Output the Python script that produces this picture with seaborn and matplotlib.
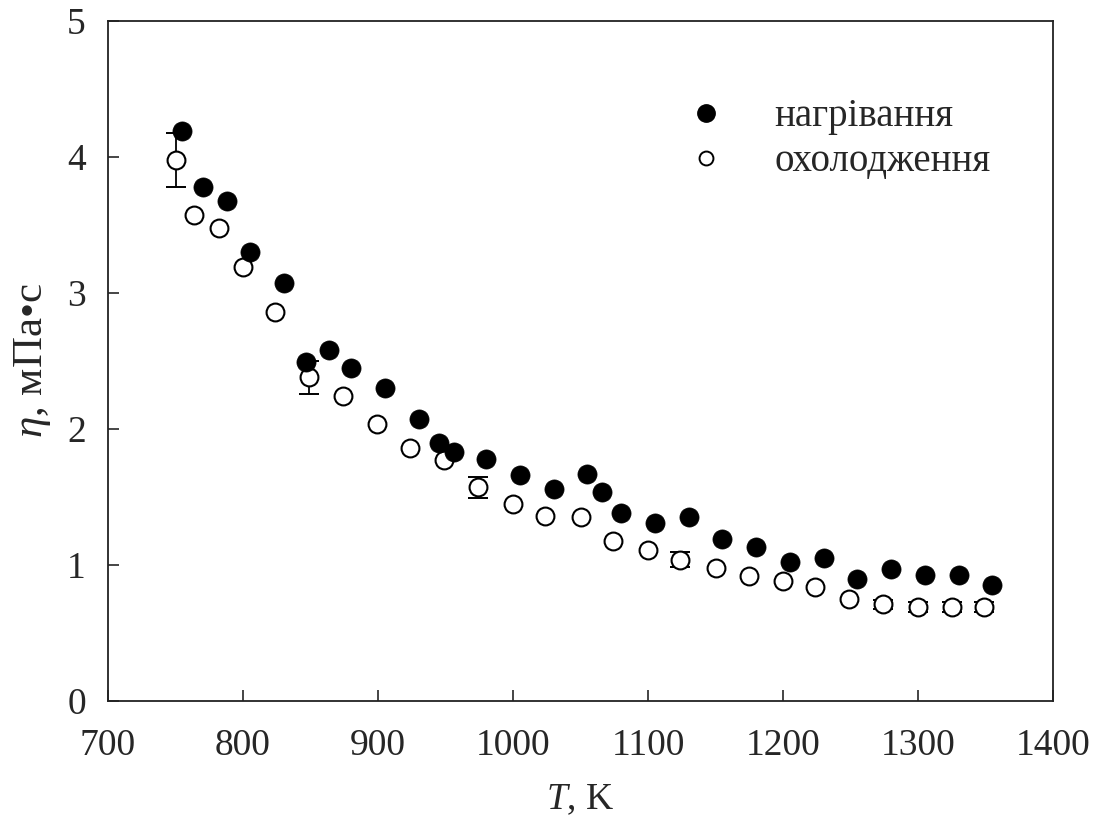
import numpy as np
import pandas as pd
import matplotlib
matplotlib.use("Agg")
import matplotlib.pyplot as plt
import seaborn as sns
from matplotlib.lines import Line2D

# ---- data ----
heat_T = [755, 770, 788, 805, 830, 847, 864, 880, 905, 930, 945, 956, 980, 1005,
          1030, 1055, 1066, 1080, 1105, 1130, 1155, 1180, 1205, 1230, 1255, 1280,
          1305, 1330, 1355]
heat_eta = [4.19, 3.78, 3.68, 3.30, 3.07, 2.49, 2.58, 2.45, 2.30, 2.07, 1.90, 1.83,
            1.78, 1.66, 1.56, 1.67, 1.54, 1.38, 1.31, 1.35, 1.19, 1.13, 1.02, 1.05,
            0.90, 0.97, 0.93, 0.93, 0.85]

cool_T = [750, 764, 782, 800, 824, 849, 874, 899, 924, 949, 974, 1000, 1024, 1050,
          1074, 1100, 1124, 1150, 1175, 1200, 1224, 1249, 1274, 1300, 1325, 1349]
cool_eta = [3.98, 3.57, 3.48, 3.19, 2.86, 2.38, 2.24, 2.04, 1.86, 1.77, 1.57, 1.45,
            1.36, 1.35, 1.18, 1.11, 1.04, 0.98, 0.92, 0.88, 0.84, 0.75, 0.71, 0.69,
            0.69, 0.69]
cool_err = [0.20, 0, 0, 0, 0, 0.12, 0, 0, 0, 0, 0.08, 0, 0, 0, 0, 0, 0.055, 0, 0, 0,
            0, 0, 0.035, 0.035, 0.035, 0.035]

labels = ["нагрівання", "охолодження"]
x_ticks = [700, 800, 900, 1000, 1100, 1200, 1300, 1400]
y_ticks = [0, 1, 2, 3, 4, 5]

# ---- style ----
sns.set_style("ticks")
plt.rcParams["font.family"] = ["Liberation Serif", "DejaVu Serif"]
plt.rcParams["mathtext.fontset"] = "custom"
plt.rcParams["mathtext.it"] = "Liberation Serif:italic"
plt.rcParams["mathtext.rm"] = "Liberation Serif"

fig = plt.figure(figsize=(10.99, 8.31), dpi=100)
ax = fig.add_axes([108 / 1099, 1 - 701 / 831, (1053 - 108) / 1099, (701 - 21) / 831])

heat = pd.DataFrame({"T": heat_T, "eta": heat_eta})
cool = pd.DataFrame({"T": cool_T, "eta": cool_eta, "err": cool_err})

# error bars (only where present)
ce = cool[cool["err"] > 0]
ax.errorbar(ce["T"], ce["eta"], yerr=ce["err"], fmt="none", ecolor="black",
            elinewidth=1.3, capsize=7.5, capthick=1.4, zorder=1)

sns.scatterplot(data=cool, x="T", y="eta", ax=ax, marker="o", s=165,
                facecolor="white", edgecolor="black", linewidth=1.5, zorder=2)
sns.scatterplot(data=heat, x="T", y="eta", ax=ax, marker="o", s=190,
                color="black", edgecolor="black", linewidth=0.5, zorder=3)

ax.set_xlim(700, 1400)
ax.set_ylim(0, 5)
ax.set_xticks(x_ticks)
ax.set_yticks(y_ticks)
ax.tick_params(direction="in", length=8, width=1.2, labelsize=27)
ax.tick_params(axis="x", pad=20)
ax.tick_params(axis="y", pad=16)
for s in ax.spines.values():
    s.set_linewidth(1.3)
    s.set_color("#222222")

ax.set_xlabel(r"$T$, K", fontsize=27, labelpad=14)
ax.set_ylabel(r"$\eta$, мПа•с", fontsize=31, labelpad=10)

handles = [
    Line2D([], [], marker="o", linestyle="none", markersize=12.5,
           markerfacecolor="black", markeredgecolor="black"),
    Line2D([], [], marker="o", linestyle="none", markersize=10,
           markerfacecolor="white", markeredgecolor="black", markeredgewidth=1.4),
]
leg = ax.legend(handles, labels, loc="center left", bbox_to_anchor=(0.602, 0.826),
                frameon=False, fontsize=28, handletextpad=1.0, labelspacing=0.2,
                borderaxespad=0, borderpad=0, handlelength=1.5)

fig.savefig("out.png", dpi=100)
